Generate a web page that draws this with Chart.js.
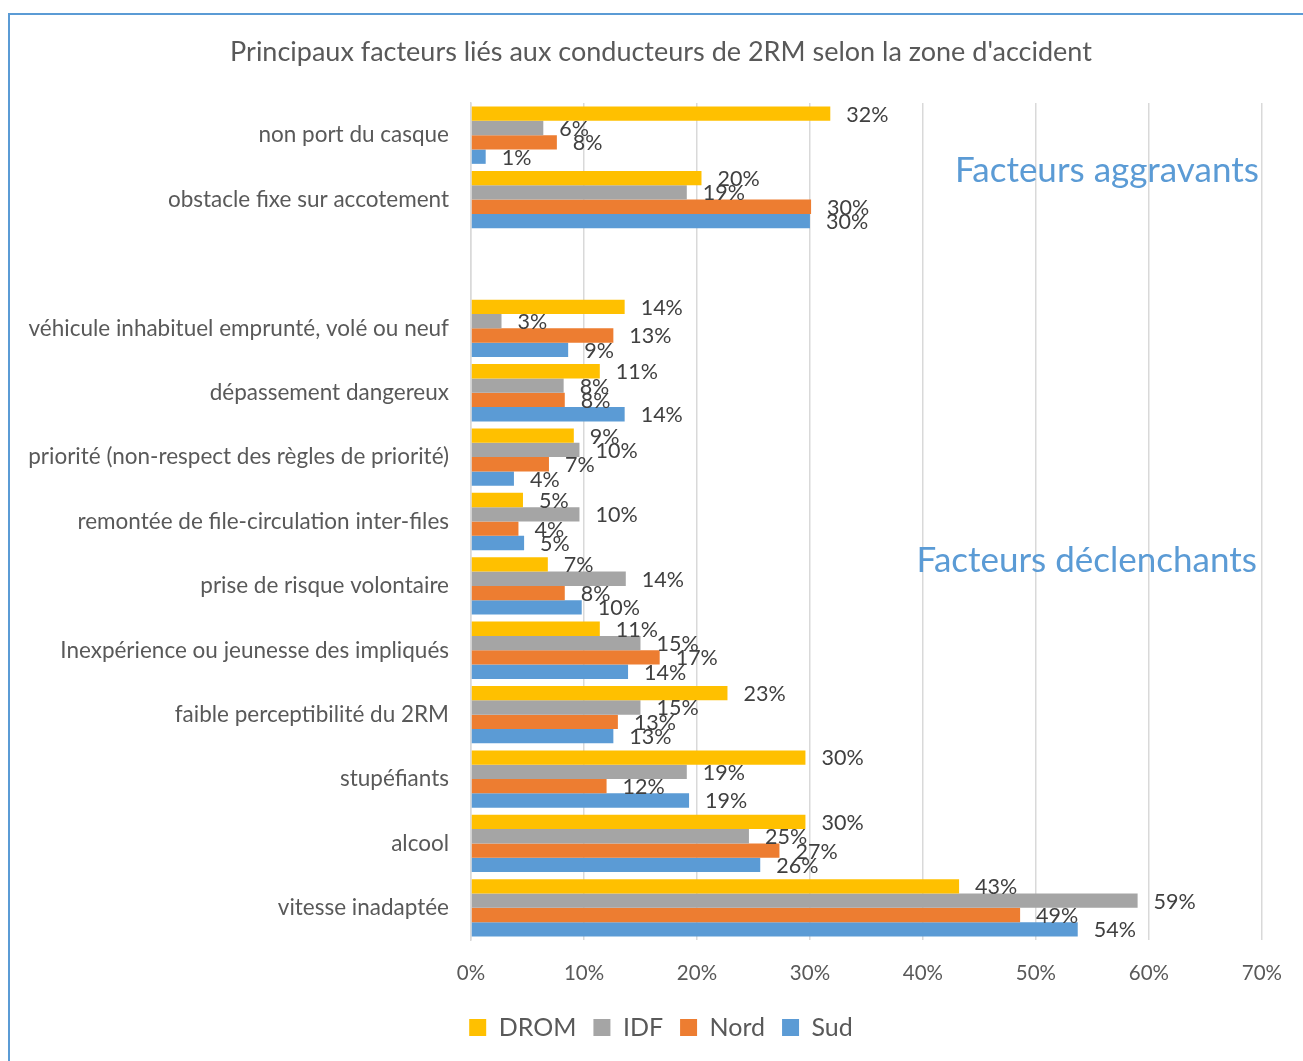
<!DOCTYPE html>
<html><head><meta charset="utf-8">
<script src="https://cdn.jsdelivr.net/npm/chart.js@4/dist/chart.umd.min.js"></script>
<style>
html,body{margin:0;padding:0;background:#fff;overflow:hidden;}
#wrap{position:relative;width:1303px;height:1061px;overflow:hidden;}
#frame{position:absolute;left:8px;top:13px;width:1400px;height:1200px;border:2px solid #5B9BD5;box-sizing:border-box;}
canvas{position:absolute;left:0;top:0;}
</style></head><body>
<div id="wrap"><div id="frame"></div><canvas id="c" width="1303" height="1061"></canvas></div>
<script>
const titleText = "Principaux facteurs liés aux conducteurs de 2RM selon la zone d'accident";
const categories = [
  "non port du casque",
  "obstacle fixe sur accotement",
  "",
  "véhicule inhabituel emprunté, volé ou neuf",
  "dépassement dangereux",
  "priorité (non-respect des règles de priorité)",
  "remontée de file-circulation inter-files",
  "prise de risque volontaire",
  "Inexpérience ou jeunesse des impliqués",
  "faible perceptibilité du 2RM",
  "stupéfiants",
  "alcool",
  "vitesse inadaptée"
];
const seriesNames = ["DROM", "IDF", "Nord", "Sud"];
const drom = [31.8, 20.4, null, 13.6, 11.4, 9.1, 4.6, 6.8, 11.4, 22.7, 29.6, 29.6, 43.2];
const idf  = [6.4, 19.1, null, 2.7, 8.2, 9.6, 9.6, 13.7, 15.0, 15.0, 19.1, 24.6, 59.0];
const nord = [7.6, 30.1, null, 12.6, 8.3, 6.9, 4.2, 8.3, 16.7, 13.0, 12.0, 27.3, 48.6];
const sud  = [1.3, 30.0, null, 8.6, 13.6, 3.8, 4.7, 9.8, 13.9, 12.6, 19.3, 25.6, 53.7];
const xTickLabels = ["0%", "10%", "20%", "30%", "40%", "50%", "60%", "70%"];
const annotations = ["Facteurs aggravants", "Facteurs déclenchants"];

const colors = ["#FFC000", "#A5A5A5", "#ED7D31", "#5B9BD5"];
const seriesData = [drom, idf, nord, sud];
const FONT = "Lato";

const dataLabels = {
  id: 'dataLabels',
  afterDatasetsDraw(chart) {
    const ctx = chart.ctx;
    ctx.save();
    ctx.font = "21.5px " + FONT;
    ctx.fillStyle = "#404040";
    ctx.textAlign = "left";
    ctx.textBaseline = "middle";
    chart.data.datasets.forEach((ds, di) => {
      const meta = chart.getDatasetMeta(di);
      meta.data.forEach((el, i) => {
        const v = ds.data[i];
        if (v === null || v === undefined) return;
        ctx.fillText(Math.round(v) + "%", el.x + 16, el.y + 1);
      });
    });
    ctx.restore();
  }
};

const annot = {
  id: 'annot',
  afterDraw(chart) {
    const ctx = chart.ctx;
    const a = chart.chartArea;
    const y = chart.scales.y;
    ctx.save();
    ctx.font = "35px " + FONT;
    ctx.fillStyle = "#5B9BD5";
    ctx.textAlign = "right";
    ctx.textBaseline = "middle";
    ctx.fillText(annotations[0], a.right - 3, y.getPixelForValue(0) + 36);
    ctx.fillText(annotations[1], a.right - 5, y.getPixelForValue(6) + 39);
    ctx.restore();
  }
};

new Chart(document.getElementById('c'), {
  type: 'bar',
  data: {
    labels: categories,
    datasets: seriesNames.map((n, i) => ({
      label: n,
      data: seriesData[i],
      backgroundColor: colors[i],
      borderWidth: 0,
      categoryPercentage: 0.89,
      barPercentage: 1.0
    }))
  },
  options: {
    indexAxis: 'y',
    responsive: false,
    animation: false,
    layout: { padding: { left: 19, right: 0, top: 0, bottom: 11 } },
    plugins: {
      title: {
        display: true,
        text: titleText,
        color: "#595959",
        font: { family: FONT, size: 27, weight: 'normal', lineHeight: 1.2 },
        padding: { top: 36, bottom: 34.6 }
      },
      legend: {
        position: 'bottom',
        labels: {
          color: "#595959",
          font: { family: FONT, size: 25 },
          boxWidth: 17,
          boxHeight: 17,
          padding: 17
        }
      },
      tooltip: { enabled: false }
    },
    scales: {
      x: {
        min: 0, max: 70,
        ticks: {
          stepSize: 10,
          color: "#595959",
          font: { family: FONT, size: 20.5 },
          padding: 21,
          callback: (v) => xTickLabels[Math.round(v / 10)]
        },
        grid: { color: "#D9D9D9", lineWidth: 1.5, drawTicks: false },
        border: { display: false },
        afterFit: (s) => { s.height = 58; }
      },
      y: {
        ticks: {
          color: "#595959",
          font: { family: FONT, size: 22.5 },
          padding: 22,
          autoSkip: false
        },
        grid: { display: false, drawTicks: false },
        border: { display: true, color: "#D9D9D9", width: 1.5 },
        afterFit: (s) => { s.width = 452; }
      },
      yRight: {
        type: 'linear',
        position: 'right',
        display: true,
        ticks: { display: false },
        grid: { display: false, drawTicks: false },
        border: { display: false },
        afterFit: (s) => { s.width = 40; }
      }
    }
  },
  plugins: [dataLabels, annot]
});
</script>
</body></html>
